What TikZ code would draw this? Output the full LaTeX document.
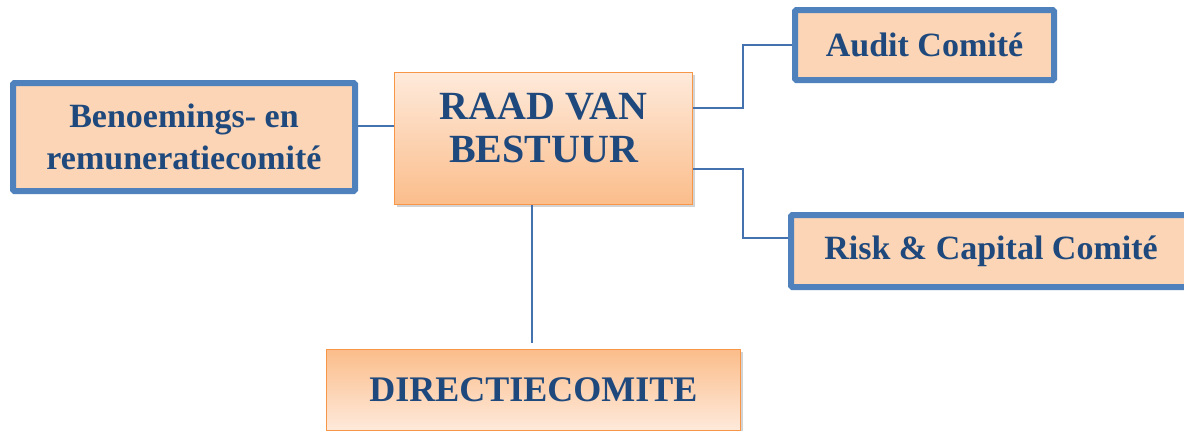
\documentclass[tikz,border=0pt]{standalone}
\usepackage{fontspec}
\setmainfont{Liberation Serif}
\usetikzlibrary{shadows}
\definecolor{boxblue}{HTML}{4F81BD}
\definecolor{linkblue}{HTML}{4372AE}
\definecolor{peach}{HTML}{FBD5B5}
\definecolor{textblue}{HTML}{1F497D}
\definecolor{orangeedge}{HTML}{F79646}
\definecolor{orangelight}{HTML}{FEEADB}
\definecolor{orangedark}{HTML}{FBBD8B}
\begin{document}
\begin{tikzpicture}[x=0.75pt,y=-0.75pt,
  comite/.style={draw=boxblue, line width=4.5pt, fill=peach, rounded corners=1pt,
    text=textblue, font=\bfseries\fontsize{25.5}{32}\selectfont, align=center},
  board/.style={draw=orangeedge, line width=1pt, top color=orangelight, bottom color=orangedark,
    drop shadow={shadow xshift=2pt, shadow yshift=-2pt, opacity=0.35},
    text=textblue, align=center},
  link/.style={draw=linkblue, line width=1.5pt}]
\useasboundingbox (0,0) rectangle (1184,430);

\node[comite, minimum width=256.5pt, minimum height=81pt] (benoem) at (184,137) {Benoemings- en\\remuneratiecomité};
\node[board, minimum width=223.5pt, minimum height=99pt, font=\bfseries\fontsize{30}{32.5}\selectfont, text depth=16.5pt] (raad) at (543.5,138.5) {RAAD VAN\\BESTUUR};
\node[comite, minimum width=194.25pt, minimum height=52.5pt] (audit) at (924.5,45) {Audit Comité};
\node[comite, minimum width=300pt, minimum height=54pt] (risk) at (991,251) {Risk \& Capital Comité};
\node[board, top color=orangedark, bottom color=orangelight, minimum width=310.5pt, minimum height=60.75pt, font=\bfseries\fontsize{27}{32}\selectfont] (dir) at (533.5,390) {DIRECTIECOMITE};

\path[link] ([yshift=8pt]benoem.east) -- ([yshift=8pt]benoem.east -| raad.west);
\path[link] ([yshift=23pt]raad.east) -- ++(50,0) |- (audit.west);
\path[link] ([yshift=-23pt]raad.east) -- ++(50,0) |- ([yshift=10pt]risk.west);
\path[link, shorten >=4.5pt] ([xshift=-8.5pt]raad.south) -- ([xshift=-8.5pt]raad.south |- dir.north);
\end{tikzpicture}
\end{document}
